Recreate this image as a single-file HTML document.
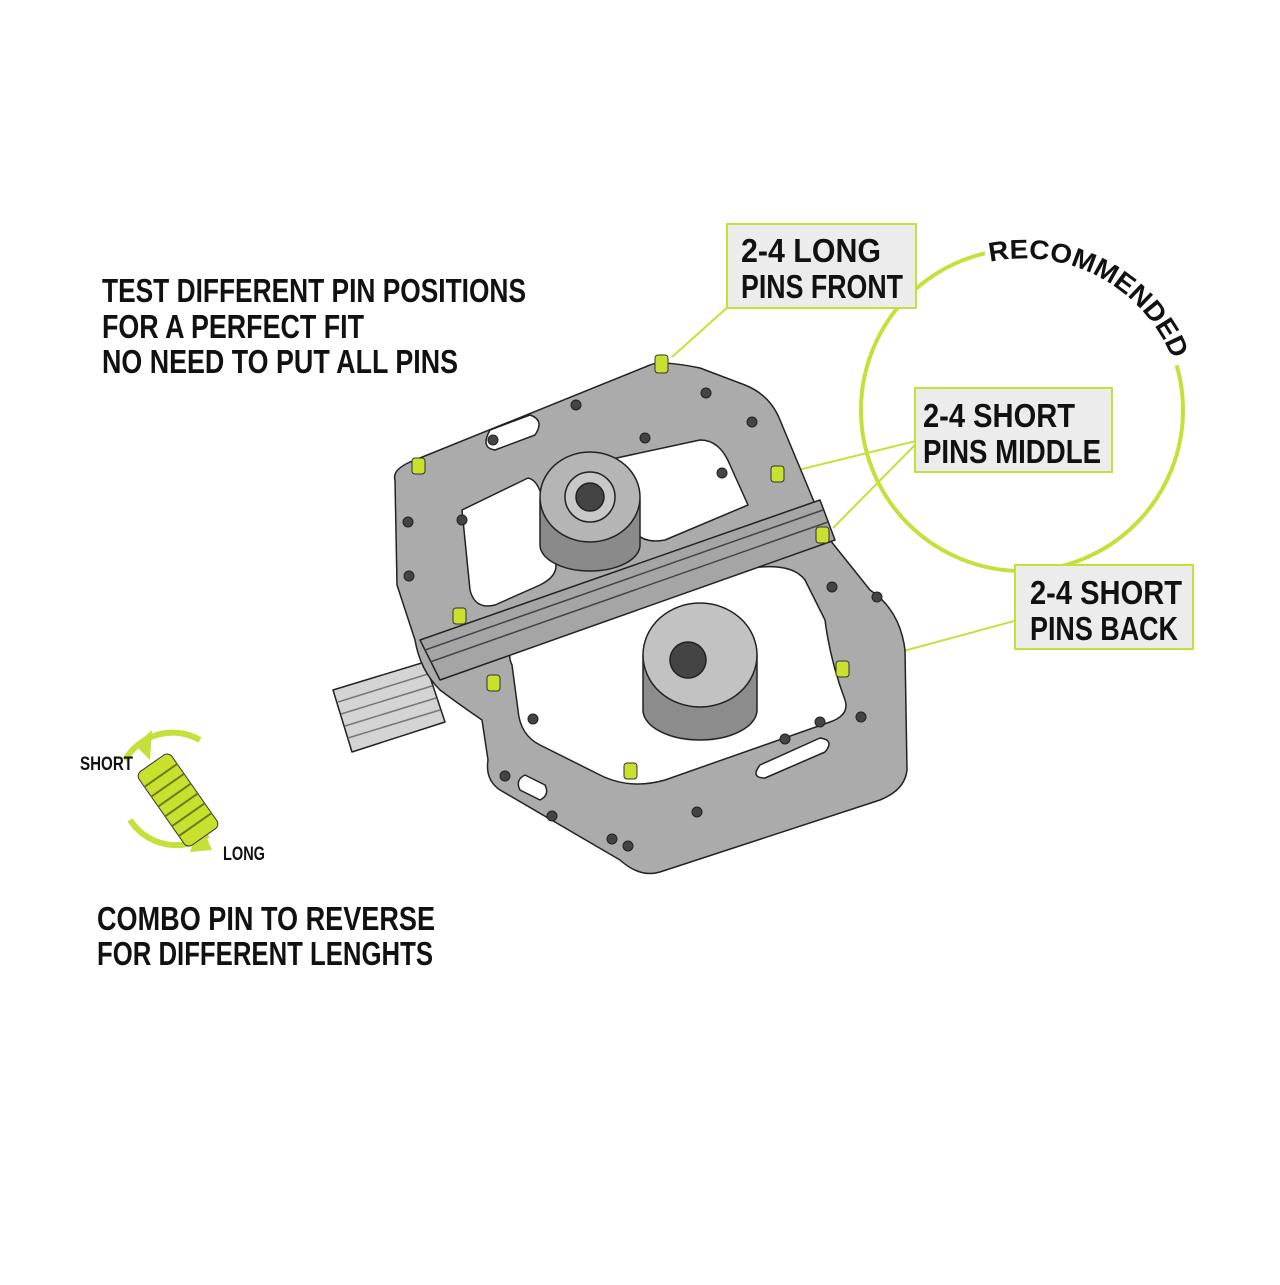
<!DOCTYPE html>
<html><head><meta charset="utf-8"><style>
html,body{margin:0;padding:0;background:#fff;}
.t{font-family:"Liberation Sans",sans-serif;font-weight:bold;fill:#111;}
</style></head><body>
<svg width="1280" height="1280" viewBox="0 0 1280 1280" xmlns="http://www.w3.org/2000/svg">
<rect width="1280" height="1280" fill="#fff"/>
<g class="t" font-size="33">
<text x="102" y="302" textLength="424" lengthAdjust="spacingAndGlyphs">TEST DIFFERENT PIN POSITIONS</text>
<text x="102" y="338" textLength="262" lengthAdjust="spacingAndGlyphs">FOR A PERFECT FIT</text>
<text x="102" y="373" textLength="356" lengthAdjust="spacingAndGlyphs">NO NEED TO PUT ALL PINS</text>
</g>
<circle cx="1022" cy="410" r="161" fill="none" stroke="#c5e03a" stroke-width="4"/>
<path id="arc" d="M 990 262 A 160 160 0 0 1 1172 358" fill="none"/>
<path d="M 985 240 A 180 180 0 0 1 1195 360 L 1160 370 A 150 150 0 0 0 985 275 Z" fill="#fff"/>
<text class="t" font-size="27"><textPath href="#arc" textLength="225" lengthAdjust="spacingAndGlyphs">RECOMMENDED</textPath></text>
<g stroke="#c5e03a" stroke-width="2" fill="none">
<line x1="672" y1="357" x2="730" y2="305"/>
<line x1="790" y1="472" x2="920" y2="440"/>
<line x1="833" y1="528" x2="920" y2="440"/>
<line x1="852" y1="665" x2="1018" y2="620"/>
</g>
<g fill="#ececec" stroke="#c5e03a" stroke-width="2">
<rect x="727" y="224" width="189" height="84"/>
<rect x="915" y="388" width="197" height="84"/>
<rect x="1015" y="565" width="178" height="84"/>
</g>
<g class="t" font-size="33">
<text x="741" y="262" textLength="140" lengthAdjust="spacingAndGlyphs">2-4  LONG</text>
<text x="741" y="298" textLength="162" lengthAdjust="spacingAndGlyphs">PINS FRONT</text>
<text x="923" y="427" textLength="152" lengthAdjust="spacingAndGlyphs">2-4 SHORT</text>
<text x="923" y="463" textLength="178" lengthAdjust="spacingAndGlyphs">PINS MIDDLE</text>
<text x="1030" y="604" textLength="152" lengthAdjust="spacingAndGlyphs">2-4 SHORT</text>
<text x="1030" y="640" textLength="148" lengthAdjust="spacingAndGlyphs">PINS BACK</text>
</g>
<g stroke="#222" stroke-width="1.5" stroke-linejoin="round">
<path d="M333 690 L425 662 L445 722 L352 752 Z" fill="#d4d4d4"/>
<path d="M338 702 L428 674 M341 714 L432 686 M345 726 L436 698 M348 738 L440 710" stroke="#777" fill="none"/>
<path d="M395 480 Q392 470 410 462 L650 365 Q660 360 700 368 L745 385 Q770 395 780 420 L830 540 L870 590 Q900 610 905 650 L907 770 Q905 790 880 800 L660 872 Q640 878 620 860 L500 790 Q485 780 488 760 L482 720 Q460 705 440 690 Q420 670 415 640 L397 585 Z" fill="#ababab"/>
<path d="M462 510 L528 478 Q540 480 545 510 L555 560 Q560 575 540 585 L495 605 Q475 610 470 590 Z" fill="#fff"/>
<path d="M598 462 L700 440 Q720 440 730 465 L748 505 L665 540 Q640 545 630 525 L605 495 Z" fill="#fff"/>
<path d="M512 665 Q505 650 520 645 L740 570 Q790 560 805 580 L825 620 Q830 660 845 700 Q850 715 830 722 L665 780 Q630 790 600 775 L540 745 Q520 735 518 710 Z" fill="#fff"/>
<path d="M490 430 L530 415 Q545 420 535 435 L495 450 Q480 448 490 430 Z" fill="#fff"/>
<path d="M760 765 L820 738 Q835 740 825 752 L765 778 Q750 778 760 765 Z" fill="#fff"/>
<path d="M525 775 L545 785 Q550 795 540 800 L520 790 Q515 780 525 775 Z" fill="#fff"/>
<path d="M420 640 L820 500 L835 540 L440 680 Z" fill="#a5a5a5"/>
<path d="M425 650 L823 510 M430 662 L828 522" fill="none" stroke="#444"/>
<path d="M540 500 L540 545 A50 26 0 0 0 640 545 L640 500 Z" fill="#8a8a8a"/>
<ellipse cx="590" cy="497" rx="50" ry="45" fill="#b5b5b5"/>
<circle cx="590" cy="497" r="25" fill="#c8c8c8"/>
<circle cx="590" cy="497" r="14" fill="#444"/>
<path d="M643 655 L643 710 A57 30 0 0 0 757 710 L757 655 Z" fill="#8c8c8c"/>
<ellipse cx="700" cy="655" rx="57" ry="52" fill="#c2c2c2"/>
<circle cx="688" cy="660" r="18" fill="#444"/>
</g>
<g fill="#444" stroke="#222">
<circle cx="493" cy="440" r="5"/><circle cx="576" cy="405" r="5"/><circle cx="706" cy="393" r="5"/><circle cx="752" cy="422" r="5"/>
<circle cx="408" cy="522" r="5"/><circle cx="409" cy="576" r="5"/><circle cx="722" cy="473" r="5"/><circle cx="832" cy="587" r="5"/>
<circle cx="533" cy="719" r="5"/><circle cx="505" cy="776" r="5"/><circle cx="552" cy="816" r="5"/><circle cx="612" cy="839" r="5"/>
<circle cx="697" cy="812" r="5"/><circle cx="785" cy="739" r="5"/><circle cx="820" cy="722" r="5"/><circle cx="861" cy="717" r="5"/><circle cx="877" cy="597" r="5"/>
<circle cx="628" cy="846" r="5"/><circle cx="462" cy="520" r="5"/><circle cx="645" cy="438" r="5"/>
</g>
<g fill="#c9e02e" stroke="#333" stroke-width="1">
<rect x="655" y="355" width="13" height="18" rx="3"/>
<rect x="412" y="458" width="13" height="16" rx="3"/>
<rect x="771" y="466" width="13" height="16" rx="3"/>
<rect x="816" y="527" width="13" height="16" rx="3"/>
<rect x="453" y="608" width="13" height="16" rx="3"/>
<rect x="487" y="675" width="13" height="16" rx="3"/>
<rect x="836" y="661" width="13" height="16" rx="3"/>
<rect x="624" y="763" width="13" height="16" rx="3"/>
</g>
<g>
<path d="M125 760 A55 55 0 0 1 200 740" fill="none" stroke="#c5e03a" stroke-width="6"/>
<polygon points="135,745 152,730 150,760" fill="#c5e03a"/>
<path d="M208 835 A55 55 0 0 1 130 820" fill="none" stroke="#c5e03a" stroke-width="6"/>
<polygon points="200,822 212,850 190,852" fill="#c5e03a"/>
<g transform="rotate(-35 178 800)">
<rect x="158" y="755" width="40" height="90" rx="6" fill="#c9e02e" stroke="#333"/>
<path d="M158 770 H198 M158 782 H198 M158 794 H198 M158 806 H198 M158 818 H198 M158 830 H198" stroke="#6a7a10" stroke-width="2"/>
</g>
<text class="t" x="80" y="770" font-size="19" textLength="53" lengthAdjust="spacingAndGlyphs">SHORT</text>
<text class="t" x="223" y="860" font-size="19" textLength="42" lengthAdjust="spacingAndGlyphs">LONG</text>
</g>
<g class="t" font-size="33">
<text x="97" y="930" textLength="338" lengthAdjust="spacingAndGlyphs">COMBO PIN TO REVERSE</text>
<text x="97" y="965" textLength="336" lengthAdjust="spacingAndGlyphs">FOR DIFFERENT LENGHTS</text>
</g>
</svg>
</body></html>
